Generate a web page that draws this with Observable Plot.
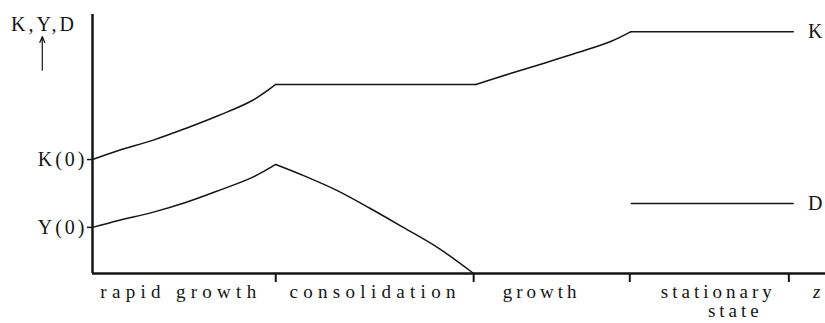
<!DOCTYPE html>
<html>
<head>
<meta charset="utf-8">
<script src="https://cdn.jsdelivr.net/npm/d3@7"></script>
<script src="https://cdn.jsdelivr.net/npm/@observablehq/plot@0.6"></script>
<style>
  html, body { margin: 0; padding: 0; background: #fff; }
  #chart svg { display: block; }
</style>
</head>
<body>
<div id="chart"></div>
<script>
// Time axis (arbitrary units 0–100), phase boundaries
const phaseBounds = [25, 52, 73.3, 95];
const phaseCenters = [11.7, 38.2, 61.0, 85.1];
const phaseNames = ["rapid growth", "consolidation", "growth", "stationary\nstate"];

// Capital stock K (segments split at kink indices)
const kX = [0, 3.55, 8.19, 12.7, 17.2, 21.8, 25, 52.3, 57.0, 61.5, 66.2, 70.7, 73.4, 95.6];
const kY = [44.0, 47.5, 51.4, 56.0, 61.0, 66.8, 73.0, 73.0, 77.2, 81.1, 85.3, 89.6, 93.3, 93.3];
const kKinks = [6, 7, 12];

// Output Y
const yX = [0, 3.55, 8.19, 12.7, 17.2, 21.8, 25, 28.8, 33.4, 37.9, 42.4, 47.1, 52];
const yY = [17.8, 20.5, 23.6, 27.4, 32.0, 37.1, 42.1, 37.8, 32.0, 25.1, 17.8, 10.0, 0];
const yKinks = [6];

// D
const dX = [73.5, 95.6];
const dY = [27.0, 27.0];
const dKinks = [];

// Axis ticks
const yTickValues = [44.0, 17.8];
const yTickLabels = ["K(0)", "Y(0)"];
const yTitle = "K,Y,D";

function segmentRows(series, xs, vs, kinks) {
  const cuts = [0, ...kinks, xs.length - 1];
  const out = [];
  for (let s = 0; s < cuts.length - 1; s++) {
    for (let i = cuts[s]; i <= cuts[s + 1]; i++) {
      out.push({series, seg: series + s, x: xs[i], v: vs[i]});
    }
  }
  return out;
}
const rows = [
  ...segmentRows("K", kX, kY, kKinks),
  ...segmentRows("Y", yX, yY, yKinks),
  ...segmentRows("D", dX, dY, dKinks)
];
const seriesLabels = [
  {name: "K", x: 97.6, v: kY[kY.length - 1]},
  {name: "D", x: 97.6, v: dY[dY.length - 1]}
];
const phases = phaseNames.map((name, i) => ({name, x: phaseCenters[i]}));

const ink = "#151515";
const serif = "Liberation Serif";

const chart = Plot.plot({
  width: 825,
  height: 323,
  marginLeft: 92,
  marginRight: 0,
  marginTop: 14,
  marginBottom: 50,
  x: {domain: [0, 100]},
  y: {domain: [0, 100]},
  style: {fontFamily: serif, fontSize: "19px", color: ink, background: "#fff"},
  marks: [
    Plot.axisX({ticks: phaseBounds, tickFormat: () => "", label: null, tickSize: 9, strokeWidth: 2, stroke: ink}),
    Plot.axisY({ticks: yTickValues, tickFormat: d => yTickLabels[yTickValues.indexOf(d)], label: null, tickSize: 5, tickPadding: 3, strokeWidth: 1.5, fontSize: 20, fontFamily: serif, stroke: ink}),
    Plot.ruleY([0], {strokeWidth: 2.5, stroke: ink}),
    Plot.ruleX([0], {y1: 0, y2: 100, strokeWidth: 2.5, stroke: ink}),
    Plot.line(rows, {x: "x", y: "v", z: "seg", stroke: ink, strokeWidth: 1.5, curve: "catmull-rom"}),
    Plot.text(seriesLabels, {x: "x", y: "v", text: "name", textAnchor: "start", fontSize: 20, fontFamily: serif}),
    Plot.text(phases, {x: "x", y: 0, text: "name", lineAnchor: "top", dy: 11, lineHeight: 1.0, fontSize: 19, fontFamily: serif}),
    Plot.text(["z"], {x: 98.8, y: 0, text: d => d, lineAnchor: "top", dy: 11, fontSize: 19, fontFamily: serif, fontStyle: "italic"}),
    Plot.text([yTitle], {frameAnchor: "top-left", text: d => d, textAnchor: "middle", lineAnchor: "middle", dx: -50, dy: 10, fontSize: 20, fontFamily: serif}),
    Plot.arrow([0], {x1: -6.85, x2: -6.85, y1: 78.5, y2: 91.5, stroke: ink, strokeWidth: 1.2, headLength: 8, headAngle: 45})
  ]
});
document.getElementById("chart").appendChild(chart);

// emulate the typeset letter spacing by stretching each text run
function spreadRun(el, ls) {
  const n = el.textContent.length;
  if (n < 2) return;
  const len = el.getComputedTextLength();
  if (!(len > 0)) return;
  el.setAttribute("textLength", (len + (n - 1) * ls).toFixed(1));
  el.setAttribute("lengthAdjust", "spacing");
}
const flatPhases = phaseNames.map(s => s.replace("\n", ""));
for (const t of chart.querySelectorAll("text")) {
  const c = t.textContent;
  const pi = flatPhases.indexOf(c);
  if (pi >= 0) {
    const ls = pi < 2 ? 5.3 : 4;
    const spans = Array.from(t.querySelectorAll("tspan"));
    if (spans.length) {
      spans.forEach((s, j) => {
        spreadRun(s, ls);
        if (j > 0) s.setAttribute("dx", "17");
      });
    } else spreadRun(t, ls);
  } else if (yTickLabels.includes(c) || c === yTitle) {
    spreadRun(t, 3);
  }
}
</script>
</body>
</html>
